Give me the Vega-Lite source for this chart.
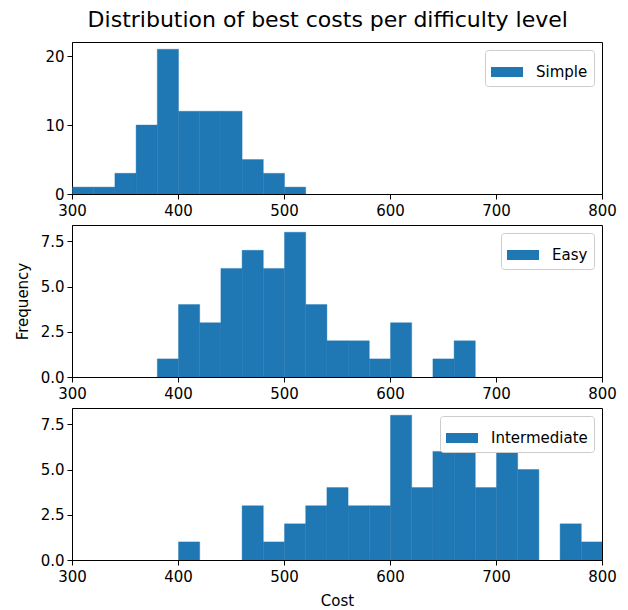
{
  "$schema": "https://vega.github.io/schema/vega-lite/v6.json",
  "padding": {"left": 14, "top": 8, "right": 20, "bottom": 0},
  "title": {"text": "Distribution of best costs per difficulty level", "fontSize": 22, "font": "DejaVu Sans", "fontWeight": "normal", "color": "black", "anchor": "middle", "offset": 10, "dx": 12},
  "datasets": {
    "hist": [
      {"level": "Simple", "start": 300, "end": 320, "count": 1},
      {"level": "Simple", "start": 320, "end": 340, "count": 1},
      {"level": "Simple", "start": 340, "end": 360, "count": 3},
      {"level": "Simple", "start": 360, "end": 380, "count": 10},
      {"level": "Simple", "start": 380, "end": 400, "count": 21},
      {"level": "Simple", "start": 400, "end": 420, "count": 12},
      {"level": "Simple", "start": 420, "end": 440, "count": 12},
      {"level": "Simple", "start": 440, "end": 460, "count": 12},
      {"level": "Simple", "start": 460, "end": 480, "count": 5},
      {"level": "Simple", "start": 480, "end": 500, "count": 3},
      {"level": "Simple", "start": 500, "end": 520, "count": 1},
      {"level": "Easy", "start": 380, "end": 400, "count": 1},
      {"level": "Easy", "start": 400, "end": 420, "count": 4},
      {"level": "Easy", "start": 420, "end": 440, "count": 3},
      {"level": "Easy", "start": 440, "end": 460, "count": 6},
      {"level": "Easy", "start": 460, "end": 480, "count": 7},
      {"level": "Easy", "start": 480, "end": 500, "count": 6},
      {"level": "Easy", "start": 500, "end": 520, "count": 8},
      {"level": "Easy", "start": 520, "end": 540, "count": 4},
      {"level": "Easy", "start": 540, "end": 560, "count": 2},
      {"level": "Easy", "start": 560, "end": 580, "count": 2},
      {"level": "Easy", "start": 580, "end": 600, "count": 1},
      {"level": "Easy", "start": 600, "end": 620, "count": 3},
      {"level": "Easy", "start": 640, "end": 660, "count": 1},
      {"level": "Easy", "start": 660, "end": 680, "count": 2},
      {"level": "Intermediate", "start": 400, "end": 420, "count": 1},
      {"level": "Intermediate", "start": 460, "end": 480, "count": 3},
      {"level": "Intermediate", "start": 480, "end": 500, "count": 1},
      {"level": "Intermediate", "start": 500, "end": 520, "count": 2},
      {"level": "Intermediate", "start": 520, "end": 540, "count": 3},
      {"level": "Intermediate", "start": 540, "end": 560, "count": 4},
      {"level": "Intermediate", "start": 560, "end": 580, "count": 3},
      {"level": "Intermediate", "start": 580, "end": 600, "count": 3},
      {"level": "Intermediate", "start": 600, "end": 620, "count": 8},
      {"level": "Intermediate", "start": 620, "end": 640, "count": 4},
      {"level": "Intermediate", "start": 640, "end": 660, "count": 6},
      {"level": "Intermediate", "start": 660, "end": 680, "count": 6},
      {"level": "Intermediate", "start": 680, "end": 700, "count": 4},
      {"level": "Intermediate", "start": 700, "end": 720, "count": 6},
      {"level": "Intermediate", "start": 720, "end": 740, "count": 5},
      {"level": "Intermediate", "start": 760, "end": 780, "count": 2},
      {"level": "Intermediate", "start": 780, "end": 800, "count": 1}
    ]
  },
  "config": {
    "view": {"stroke": "black", "strokeWidth": 1},
    "axis": {"grid": false, "domainColor": "black", "tickColor": "black", "tickSize": 5, "labelColor": "black", "labelFontSize": 15, "labelFont": "DejaVu Sans", "labelPadding": 3, "titleFont": "DejaVu Sans", "titleFontSize": 15, "titleFontWeight": "normal", "titleColor": "black", "labelFlush": false},
    "axisX": {"labelPadding": 4},
    "legend": {"orient": "top-right", "offset": 8, "padding": 6, "fillColor": "white", "strokeColor": "#cccccc", "cornerRadius": 3, "labelFontSize": 15, "labelFont": "DejaVu Sans", "labelColor": "black", "symbolType": "M-1,-0.3125H1V0.3125H-1Z", "symbolSize": 1024, "symbolStrokeWidth": 0, "labelOffset": 13},
    "bar": {"color": "#1f77b4", "binSpacing": 0}
  },
  "spacing": 31,
  "bounds": "flush",
  "resolve": {"scale": {"color": "independent", "y": "independent"}, "legend": {"color": "independent"}},
  "vconcat": [
    {
      "width": 530, "height": 152,
      "data": {"name": "hist"},
      "transform": [{"filter": "datum.level === 'Simple'"}],
      "mark": {"type": "bar", "clip": true, "binSpacing": 0, "stroke": "#1f77b4", "strokeWidth": 0.4},
      "encoding": {
        "x": {"field": "start", "type": "quantitative", "bin": {"binned": true, "step": 20}, "scale": {"domain": [300, 800], "nice": false}, "axis": {"values": [300, 400, 500, 600, 700, 800], "title": null}},
        "x2": {"field": "end"},
        "y": {"field": "count", "type": "quantitative", "scale": {"domain": [0, 22.05], "nice": false}, "axis": {"values": [0, 10, 20], "title": null}},
        "color": {"field": "level", "type": "nominal", "scale": {"range": ["#1f77b4"]}, "legend": {"title": null}}
      }
    },
    {
      "width": 530, "height": 152,
      "data": {"name": "hist"},
      "transform": [{"filter": "datum.level === 'Easy'"}],
      "mark": {"type": "bar", "clip": true, "binSpacing": 0, "stroke": "#1f77b4", "strokeWidth": 0.4},
      "encoding": {
        "x": {"field": "start", "type": "quantitative", "bin": {"binned": true, "step": 20}, "scale": {"domain": [300, 800], "nice": false}, "axis": {"values": [300, 400, 500, 600, 700, 800], "title": null}},
        "x2": {"field": "end"},
        "y": {"field": "count", "type": "quantitative", "scale": {"domain": [0, 8.4], "nice": false}, "axis": {"values": [0, 2.5, 5, 7.5], "format": ".1f", "title": "Frequency", "titlePadding": 10}},
        "color": {"field": "level", "type": "nominal", "scale": {"range": ["#1f77b4"]}, "legend": {"title": null}}
      }
    },
    {
      "width": 530, "height": 152,
      "data": {"name": "hist"},
      "transform": [{"filter": "datum.level === 'Intermediate'"}],
      "mark": {"type": "bar", "clip": true, "binSpacing": 0, "stroke": "#1f77b4", "strokeWidth": 0.4},
      "encoding": {
        "x": {"field": "start", "type": "quantitative", "bin": {"binned": true, "step": 20}, "scale": {"domain": [300, 800], "nice": false}, "axis": {"values": [300, 400, 500, 600, 700, 800], "title": "Cost", "titlePadding": 9}},
        "x2": {"field": "end"},
        "y": {"field": "count", "type": "quantitative", "scale": {"domain": [0, 8.4], "nice": false}, "axis": {"values": [0, 2.5, 5, 7.5], "format": ".1f", "title": null}},
        "color": {"field": "level", "type": "nominal", "scale": {"range": ["#1f77b4"]}, "legend": {"title": null}}
      }
    }
  ]
}
